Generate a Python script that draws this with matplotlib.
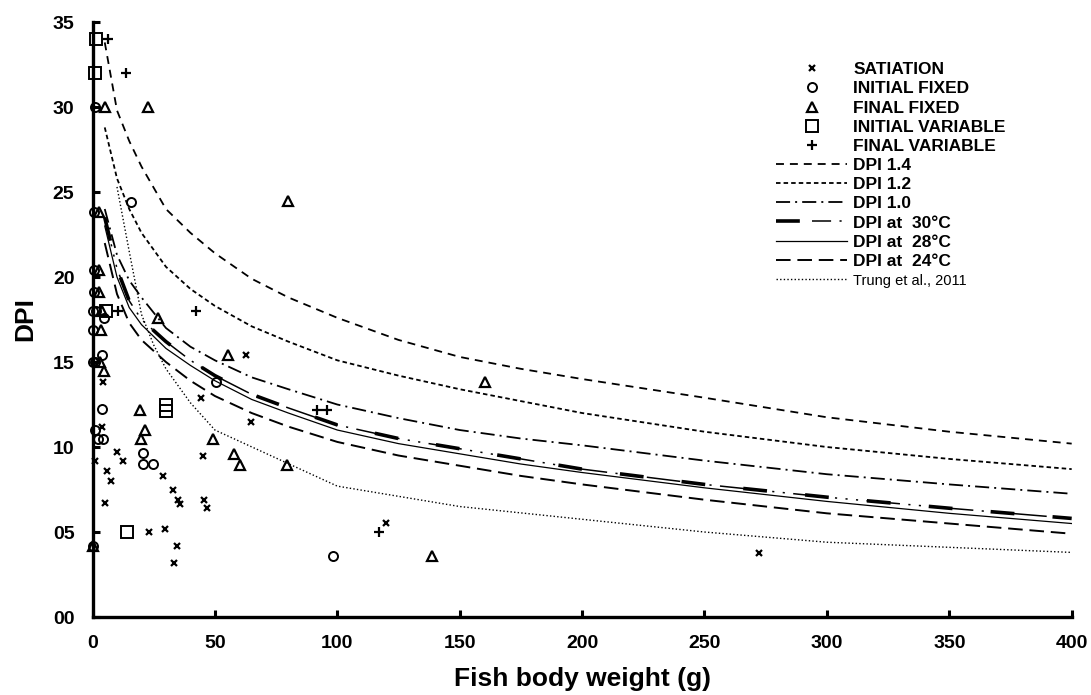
import matplotlib
matplotlib.use("Agg")
import matplotlib.pyplot as plt
from matplotlib.legend_handler import HandlerTuple
from matplotlib.ticker import FuncFormatter

plt.rcParams['font.family'] = ['Liberation Sans', 'DejaVu Sans']
plt.rcParams['font.weight'] = 'bold'

# observed DPI values (body weight g, DPI)
sat_x = [4.2, 44.2, 62.8, 64.6, 4.0, 1.0, 10.2, 12.4, 45.0, 6.1, 7.6, 28.8, 33.0, 34.8, 35.9,
         45.7, 46.6, 5.2, 22.9, 29.8, 34.5, 33.4, 119.9, 272.4]
sat_y = [13.8, 12.9, 15.4, 11.5, 11.2, 9.2, 9.7, 9.2, 9.5, 8.6, 8.0, 8.3, 7.5, 6.9, 6.65,
         6.9, 6.4, 6.7, 5.0, 5.2, 4.2, 3.2, 5.55, 3.75]

ifix_x = [1.0, 15.7, 0.5, 0.5, 0.5, 0.3, 1.4, 4.5, 0.3, 3.9, 0.1, 1.0, 50.3, 4.0, 1.2,
          2.2, 4.2, 20.8, 20.8, 24.6, 98.4, 0.2]
ifix_y = [30.0, 24.4, 23.8, 20.4, 19.1, 18.0, 18.0, 17.6, 16.9, 15.4, 15.0, 15.0, 13.8, 12.25, 11.0,
          10.5, 10.5, 9.65, 9.0, 9.0, 3.6, 4.2]

ffix_x = [5.1, 22.5, 2.6, 2.8, 2.8, 4.0, 26.6, 3.3, 3.0, 4.5, 19.4, 21.4, 19.8, 49.1, 57.8,
          60.2, 79.3, 55.5, 80.0, 160.3, 138.6, 0.4]
ffix_y = [30.0, 30.0, 23.8, 20.4, 19.1, 18.0, 17.6, 16.9, 15.0, 14.5, 12.2, 11.0, 10.5, 10.5, 9.6,
          8.95, 8.95, 15.4, 24.5, 13.8, 3.6, 4.2]

ivar_x = [1.3, 1.2, 5.5, 14.0, 30.0, 30.0]
ivar_y = [34.0, 32.0, 18.0, 5.0, 12.45, 12.1]

fvar_x = [6.2, 13.7, 10.4, 42.3, 91.5, 95.8, 117.2]
fvar_y = [34.0, 32.0, 18.0, 18.0, 12.2, 12.2, 5.0]

# model curves
w = [5, 10, 15, 20, 30, 40, 50, 65, 80, 100, 125, 150, 175, 200, 250, 300, 350, 400]
dpi_14 = [33.8, 29.8, 28.0, 26.5, 24.0, 22.6, 21.4, 19.9, 18.8, 17.6, 16.3, 15.3, 14.6, 14.0, 12.9, 11.75, 10.9, 10.2]
dpi_12 = [28.8, 25.8, 24.0, 22.6, 20.6, 19.3, 18.3, 17.1, 16.2, 15.1, 14.2, 13.4, 12.7, 12.0, 10.9, 10.0, 9.3, 8.7]
dpi_10 = [24.0, 21.3, 19.8, 18.8, 17.0, 15.9, 15.1, 14.1, 13.4, 12.5, 11.7, 11.0, 10.5, 10.1, 9.2, 8.4, 7.8, 7.25]
dpi_30 = [23.5, 20.5, 18.6, 17.5, 16.2, 15.1, 14.2, 13.1, 12.3, 11.3, 10.5, 9.9, 9.3, 8.7, 7.8, 7.05, 6.4, 5.8]
dpi_28 = [23.0, 20.0, 18.2, 17.2, 15.8, 14.8, 13.9, 12.8, 12.0, 11.0, 10.2, 9.6, 9.0, 8.5, 7.6, 6.8, 6.1, 5.5]
dpi_24 = [22.0, 19.0, 17.3, 16.3, 15.0, 13.9, 13.0, 12.0, 11.2, 10.3, 9.5, 8.9, 8.3, 7.8, 6.9, 6.1, 5.5, 4.9]

trung_w = [10, 15, 20, 25, 30, 40, 50, 100, 150, 200, 250, 300, 350, 400]
trung = [25.3, 21.5, 17.8, 16.0, 14.6, 12.6, 11.0, 7.7, 6.5, 5.75, 5.0, 4.4, 4.1, 3.8]

fig = plt.figure(figsize=(10.91, 6.95), dpi=100)
ax = fig.add_axes([0.0848, 0.1122, 0.8975, 0.8561])

mk = dict(linestyle='none', color='black', mfc='none', clip_on=False)
h_sat, = ax.plot(sat_x, sat_y, marker='x', ms=5, mew=1.6, **mk)
h_if, = ax.plot(ifix_x, ifix_y, marker='o', ms=6.5, mew=1.4, **mk)
h_ff, = ax.plot(ffix_x, ffix_y, marker='^', ms=7, mew=1.6, **mk)
h_iv, = ax.plot(ivar_x, ivar_y, marker='s', ms=9, mew=1.4, **mk)
h_fv, = ax.plot(fvar_x, fvar_y, marker='+', ms=7, mew=1.6, **mk)

h14, = ax.plot(w, dpi_14, color='black', lw=1.3, linestyle=(0, (4.4, 3.3)))
h12, = ax.plot(w, dpi_12, color='black', lw=1.3, linestyle=(0, (2.5, 1.7)))
h10, = ax.plot(w, dpi_10, color='black', lw=1.3, linestyle=(0, (7.8, 2.8, 1.1, 2.8)))
h30a, = ax.plot(w, dpi_30, color='black', lw=2.6, linestyle=(0, (6.6, 10.6)))
h30b, = ax.plot(w, dpi_30, color='black', lw=1.1, linestyle=(-18, (1.4, 5.5, 1.4, 5.5, 1.4, 5.5, 22, 5.5)))
h28, = ax.plot(w, dpi_28, color='black', lw=0.9)
h24, = ax.plot(w, dpi_24, color='black', lw=1.4, linestyle=(0, (7.5, 3.5)))
htr, = ax.plot(trung_w, trung, color='black', lw=1.0, linestyle=(0, (1, 1.6)))

ax.set_xlim(0, 400)
ax.set_ylim(0, 35)
ax.set_xticks(range(0, 401, 50))
ax.set_yticks(range(0, 36, 5))
ax.yaxis.set_major_formatter(FuncFormatter(lambda v, p: '%02d' % v))
ax.tick_params(direction='in', length=5, width=2.2, labelsize=14, pad=13)
for s in ['top', 'right']:
    ax.spines[s].set_visible(False)
for s in ['left', 'bottom']:
    ax.spines[s].set_linewidth(2.4)
for lab in ax.get_xticklabels() + ax.get_yticklabels():
    lab.set_fontweight('bold')

ax.set_xlabel('Fish body weight (g)', fontsize=19, fontweight='bold', labelpad=11)
ax.set_ylabel('DPI', fontsize=19, fontweight='bold', labelpad=11)

handles = [h_sat, h_if, h_ff, h_iv, h_fv, h14, h12, h10, (h30a, h30b), h28, h24, htr]
labels = ['SATIATION', 'INITIAL FIXED', 'FINAL FIXED', 'INITIAL VARIABLE', 'FINAL VARIABLE',
          'DPI 1.4', 'DPI 1.2', 'DPI 1.0', 'DPI at  30°C', 'DPI at  28°C', 'DPI at  24°C',
          'Trung et al., 2011']
leg = fig.legend(handles, labels, loc='upper left', bbox_to_anchor=(0.7035, 0.923),
                 frameon=False, handlelength=4.1, handletextpad=0.35, labelspacing=0.23,
                 borderpad=0, prop={'size': 12.5, 'weight': 'bold'},
                 handler_map={tuple: HandlerTuple(ndivide=None)})
for t in leg.get_texts()[-1:]:
    t.set_fontweight('normal')
    t.set_fontsize(10.5)

fig.savefig('out.png', dpi=100)
